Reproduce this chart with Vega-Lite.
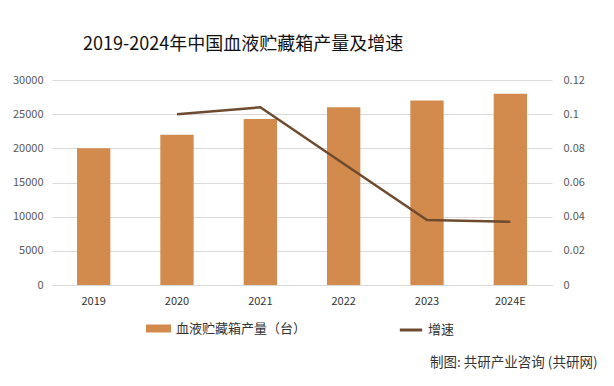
{
  "$schema": "https://vega.github.io/schema/vega-lite/v6.json",
  "width": 500,
  "height": 205,
  "autosize": {"type": "none"},
  "padding": {"left": 52, "top": 80, "right": 62, "bottom": 101},
  "background": "#ffffff",
  "config": {
    "view": {"stroke": null},
    "font": "Noto Sans CJK SC",
    "axis": {"labelFont": "Noto Sans CJK SC", "labelFontSize": 11, "labelColor": "#595959", "ticks": false, "domain": false}
  },
  "title": {
    "text": "2019-2024年中国血液贮藏箱产量及增速",
    "anchor": "start",
    "frame": "group",
    "dx": 31,
    "offset": 20,
    "fontSize": 18,
    "fontWeight": "normal",
    "color": "#111111",
    "font": "Noto Sans CJK SC"
  },
  "data": {
    "values": [
      {"year": "2019", "output": 20000, "growth": null},
      {"year": "2020", "output": 22000, "growth": 0.1},
      {"year": "2021", "output": 24300, "growth": 0.104},
      {"year": "2022", "output": 26000, "growth": 0.071},
      {"year": "2023", "output": 27000, "growth": 0.038},
      {"year": "2024E", "output": 28000, "growth": 0.037}
    ]
  },
  "encoding": {
    "x": {
      "field": "year",
      "type": "ordinal",
      "sort": null,
      "scale": {"paddingInner": 0.6, "paddingOuter": 0.3},
      "axis": {
        "labelAngle": 0,
        "labelPadding": 10,
        "labelColor": "#333333",
        "domain": true,
        "domainColor": "#D9D9D9",
        "title": "制图: 共研产业咨询 (共研网)",
        "titleX": 545,
        "titleY": 77,
        "titleAlign": "right",
        "titleBaseline": "middle",
        "titleFontSize": 13.5,
        "titleFontWeight": "normal",
        "titleColor": "#333333"
      }
    }
  },
  "layer": [
    {
      "mark": {"type": "bar", "color": "#D28B4C"},
      "encoding": {
        "y": {
          "field": "output",
          "type": "quantitative",
          "scale": {"domain": [0, 30000]},
          "axis": {
            "title": null,
            "values": [0, 5000, 10000, 15000, 20000, 25000, 30000],
            "format": "d",
            "grid": true,
            "gridColor": "#D9D9D9",
            "labelPadding": 9
          }
        },
        "fill": {
          "datum": "血液贮藏箱产量（台）",
          "type": "nominal",
          "scale": {"range": ["#D28B4C"]},
          "legend": {
            "orient": "none",
            "legendX": 93,
            "legendY": 235,
            "title": null,
            "symbolType": "M-1,-0.32H1V0.32H-1Z",
            "symbolSize": 625,
            "labelFontSize": 13,
            "labelColor": "#333333",
            "labelFont": "Noto Sans CJK SC",
            "padding": 0
          }
        }
      }
    },
    {
      "transform": [{"filter": "datum.growth != null"}],
      "mark": {"type": "line", "strokeWidth": 2.5, "color": "#6E4B2E"},
      "encoding": {
        "y": {
          "field": "growth",
          "type": "quantitative",
          "scale": {"domain": [0, 0.12]},
          "axis": {
            "title": null,
            "orient": "right",
            "values": [0, 0.02, 0.04, 0.06, 0.08, 0.1, 0.12],
            "format": ".2~f",
            "grid": false,
            "labelPadding": 11
          }
        },
        "stroke": {
          "datum": "增速",
          "type": "nominal",
          "scale": {"range": ["#6E4B2E"]},
          "legend": {
            "orient": "none",
            "legendX": 346,
            "legendY": 237,
            "title": null,
            "symbolType": "stroke",
            "symbolSize": 500,
            "symbolStrokeWidth": 3,
            "labelFontSize": 13,
            "labelColor": "#333333",
            "labelFont": "Noto Sans CJK SC",
            "padding": 0
          }
        }
      }
    }
  ],
  "resolve": {"scale": {"y": "independent", "fill": "independent", "stroke": "independent"}}
}
